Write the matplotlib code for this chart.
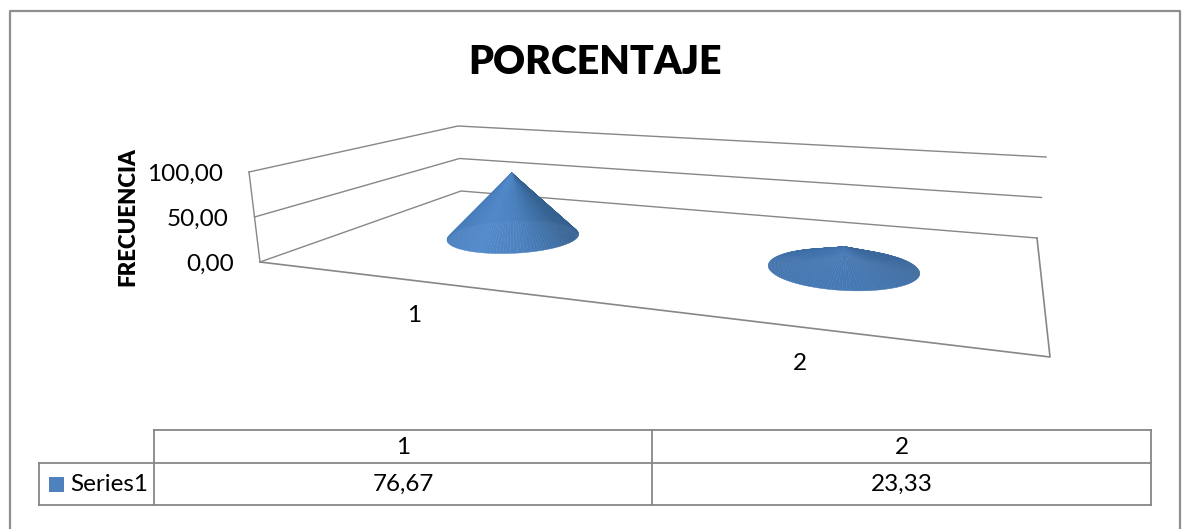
import numpy as np
import matplotlib
matplotlib.use('Agg')
import matplotlib.pyplot as plt
from matplotlib.collections import PolyCollection

categories = ['1', '2']
values = [76.67, 23.33]
value_labels = ['76,67', '23,33']
series_name = 'Series1'
axis_ticks = [0, 50, 100]
axis_tick_labels = ['0,00', '50,00', '100,00']
title = 'PORCENTAJE'
axis_title = 'FRECUENCIA'

GRAY = '#878787'
BLUE = '#4f81bd'
LABEL_SIZE = 17.5

plt.rcParams['font.family'] = ['Lato', 'DejaVu Sans']

# floor corners: front-left, front-right, back-right, back-left
floor = np.array([[260, 262], [1050, 357], [1037, 238], [461, 191]], dtype=float)
# pixels for 100 units and sideways lean of the verticals at those corners
rise = np.array([90, 110, 81, 65], dtype=float)
lean = np.array([-11, 14, 9, -3], dtype=float)


def floor_homography(q):
    dx1, dx2 = q[1] - q[2], q[3] - q[2]
    s = q[0] - q[1] + q[2] - q[3]
    det = dx1[0] * dx2[1] - dx2[0] * dx1[1]
    g = (s[0] * dx2[1] - dx2[0] * s[1]) / det
    h = (dx1[0] * s[1] - s[0] * dx1[1]) / det
    return np.array([
        [q[1][0] - q[0][0] + g * q[1][0], q[3][0] - q[0][0] + h * q[3][0], q[0][0]],
        [q[1][1] - q[0][1] + g * q[1][1], q[3][1] - q[0][1] + h * q[3][1], q[0][1]],
        [g, h, 1.0]])


H = floor_homography(floor)


def corner_mix(u, v, c):
    return (c[0] * (1 - u) * (1 - v) + c[1] * u * (1 - v)
            + c[2] * u * v + c[3] * (1 - u) * v)


def project(u, v, val=0.0):
    # u runs along the categories, v goes back into the chart, val goes up
    u, v = np.asarray(u, dtype=float), np.asarray(v, dtype=float)
    w = H[2, 0] * u + H[2, 1] * v + 1
    x = (H[0, 0] * u + H[0, 1] * v + H[0, 2]) / w
    y = (H[1, 0] * u + H[1, 1] * v + H[1, 2]) / w
    return (x + corner_mix(u, v, lean) * val / 100,
            y - corner_mix(u, v, rise) * val / 100)


fig = plt.figure(figsize=(11.82, 5.29), dpi=100)
ax = fig.add_axes([0, 0, 1, 1])
ax.set_xlim(0, 1182)
ax.set_ylim(529, 0)
ax.axis('off')

# chart frame, open at the bottom
ax.plot([10, 10, 1180, 1180], [529, 11, 11, 529], color='#8f8f8f', lw=1.6)

# walls and floor
for tick in axis_ticks:
    x, y = project([0, 0, 1], [0, 1, 1], tick)
    ax.plot(x, y, color=GRAY, lw=1.0)
x, y = project([0, 1, 1], [0, 0, 1])
ax.plot(x, y, color=GRAY, lw=1.2)
x, y = project([0, 0], [0, 0], np.array([0, 100]))
ax.plot(x, y, color=GRAY, lw=1.0)

for tick, label in zip(axis_ticks, axis_tick_labels):
    x, y = project(0, 0, tick)
    ax.text(x - 26, y + 2.5, label, ha='right', va='center', fontsize=LABEL_SIZE)

stops = [-180, -90, 0, 35, 60, 90, 180]
shades = np.array([[0x2f, 0x5a, 0x8a], [0x42, 0x76, 0xb2], [0x52, 0x8a, 0xcb],
                   [0x4d, 0x82, 0xc0], [0x41, 0x74, 0xab], [0x37, 0x64, 0x94],
                   [0x2f, 0x5a, 0x8a]]) / 255
flat_colour = np.array([0x3f, 0x6e, 0xa6]) / 255
flatness = [0.0, 0.6]
rim_u = [0.098, 0.1]
rim_v = [0.2, 0.2]
segments = 120
base_drop = 1.5

for i, val in enumerate(values):
    u0, v0 = (i + 0.5) / len(values), 0.5
    t = np.linspace(-np.pi, np.pi, segments + 1)
    rx, ry = project(u0 + rim_u[i] * np.cos(t), v0 + rim_v[i] * np.sin(t))
    ry = ry + base_drop
    ax_, ay_ = project(u0, v0, val)
    ay_ = ay_ + base_drop
    polys, cols = [], []
    facing = np.degrees((t[:-1] + t[1:]) / 2) + 90
    facing = (facing + 180) % 360 - 180
    for k in range(segments):
        polys.append([(ax_, ay_), (rx[k], ry[k]), (rx[k + 1], ry[k + 1])])
        c = np.array([np.interp(facing[k], stops, shades[:, j]) for j in range(3)])
        cols.append(c * (1 - flatness[i]) + flat_colour * flatness[i])
    order = np.argsort(ry[:-1])
    fan = PolyCollection([polys[k] for k in order], facecolors=[cols[k] for k in order],
                         edgecolors=[cols[k] for k in order], linewidths=0.3, zorder=3)
    ax.add_collection(fan)

ax.text(414, 316, categories[0], ha='center', va='center', fontsize=LABEL_SIZE)
ax.text(800, 363, categories[1], ha='center', va='center', fontsize=LABEL_SIZE)

ax.text(595, 62, title, ha='center', va='center', fontsize=28.4, fontweight='heavy')
ax.text(128, 217, axis_title, ha='center', va='center', rotation=90,
        fontsize=16, fontweight='heavy')

# data table under the chart
col_x = [154, 652, 1151]
row_y = [430, 463, 505]
ax.plot([154, 1151], [row_y[0], row_y[0]], color=GRAY, lw=1.3)
ax.plot([39, 1151], [row_y[1], row_y[1]], color=GRAY, lw=1.3)
ax.plot([39, 1151], [row_y[2], row_y[2]], color=GRAY, lw=1.3)
ax.plot([39, 39], [row_y[1], row_y[2]], color=GRAY, lw=1.3)
for cx in col_x:
    ax.plot([cx, cx], [row_y[0], row_y[2]], color=GRAY, lw=1.3)

for j in range(len(categories)):
    cx = (col_x[j] + col_x[j + 1]) / 2
    ax.text(cx, 447.5, categories[j], ha='center', va='center', fontsize=LABEL_SIZE)
    ax.text(cx, 484.5, value_labels[j], ha='center', va='center', fontsize=LABEL_SIZE)

ax.plot([55.5], [484], marker='s', ms=10.8, mew=0, color=BLUE)
ax.text(70, 484.5, series_name, ha='left', va='center', fontsize=LABEL_SIZE)

fig.savefig('out.png', dpi=100)
